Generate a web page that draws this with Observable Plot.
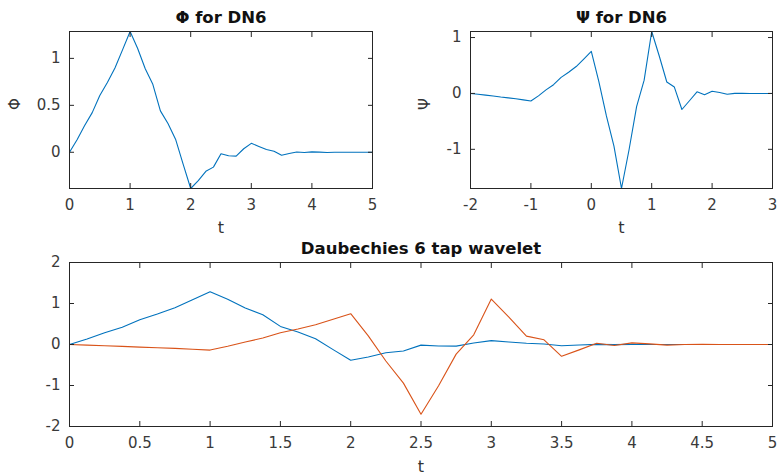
<!DOCTYPE html>
<html>
<head>
<meta charset="utf-8">
<script src="https://cdn.jsdelivr.net/npm/d3@7"></script>
<script src="https://cdn.jsdelivr.net/npm/@observablehq/plot@0.6"></script>
<style>
  html, body { margin: 0; padding: 0; background: #fff; }
  #root { position: relative; width: 779px; height: 474px; overflow: hidden; }
  .panel { position: absolute; }
</style>
</head>
<body>
<div id="root">
  <div class="panel" id="p1" style="left:0px;top:0px"></div>
  <div class="panel" id="p2" style="left:390px;top:0px"></div>
  <div class="panel" id="p3" style="left:0px;top:230px"></div>
</div>
<script>
// Time grid of the scaling function (support [0, 5])
const tPhi = [0, 0.125, 0.25, 0.375, 0.5, 0.625, 0.75, 0.875, 1, 1.125, 1.25, 1.375, 1.5, 1.625, 1.75, 1.875,
  2, 2.125, 2.25, 2.375, 2.5, 2.625, 2.75, 2.875, 3, 3.125, 3.25, 3.375, 3.5, 3.625, 3.75, 3.875,
  4, 4.125, 4.25, 4.375, 4.5, 4.625, 4.75, 4.875, 5];
// Scaling function Φ values
const phiValues = [0, 0.1340, 0.2847, 0.4225, 0.6052, 0.7436, 0.8981, 1.0904, 1.2863, 1.1052, 0.8899, 0.7241,
  0.4411, 0.3069, 0.1394, -0.1257, -0.3858, -0.3029, -0.2030, -0.1581, -0.0150, -0.0369, -0.0406, 0.0376,
  0.0953, 0.0621, 0.0299, 0.0113, -0.0315, -0.0134, 0.0030, -0.0024, 0.0042, 0.0017, -0.0016, 0.0002,
  0.0002, -0.0001, 0, 0, 0];
// Time grid of the wavelet (support [-2, 3])
const tPsi = [-2, -1.875, -1.75, -1.625, -1.5, -1.375, -1.25, -1.125, -1, -0.875, -0.75, -0.625, -0.5, -0.375, -0.25, -0.125,
  0, 0.125, 0.25, 0.375, 0.5, 0.625, 0.75, 0.875, 1, 1.125, 1.25, 1.375, 1.5, 1.625, 1.75, 1.875,
  2, 2.125, 2.25, 2.375, 2.5, 2.625, 2.75, 2.875, 3];
// Wavelet Ψ values
const psiValues = [0, -0.0142, -0.0301, -0.0447, -0.0641, -0.0787, -0.0951, -0.1155, -0.1362, -0.0431, 0.0630, 0.1567,
  0.2875, 0.3781, 0.4812, 0.6155, 0.7512, 0.2116, -0.4028, -0.9423, -1.7011, -1.0077, -0.2344, 0.2376,
  1.1082, 0.6695, 0.2041, 0.1139, -0.2875, -0.1307, 0.0291, -0.0225, 0.0400, 0.0159, -0.0151, 0.0014,
  0.0020, -0.0008, 0.0001, 0, 0];
// Wavelet shifted onto [0, 5] in the combined panel
const psiShift = 2;

// Tick labels
const xTicksPhi = [0, 1, 2, 3, 4, 5];
const yTicksPhi = [0, 0.5, 1];
const xTicksPsi = [-2, -1, 0, 1, 2, 3];
const yTicksPsi = [-1, 0, 1];
const xTicksAll = [0, 0.5, 1, 1.5, 2, 2.5, 3, 3.5, 4, 4.5, 5];
const yTicksAll = [-2, -1, 0, 1, 2];

const titles = ["Φ for DN6", "Ψ for DN6", "Daubechies 6 tap wavelet"];
const yLabels = ["Φ", "Ψ"];
const xLabel = "t";

const BLUE = "#0072BD";
const ORANGE = "#D95319";
const AX = "#262626";
const FONT = "'DejaVu Sans', 'Liberation Sans', Arial, sans-serif";

const phiData = tPhi.map((t, i) => ({t, v: phiValues[i]}));
const psiData = tPsi.map((t, i) => ({t, v: psiValues[i]}));
const psiShifted = tPsi.map((t, i) => ({t: t + psiShift, v: psiValues[i]}));

const fmt = d => String(d);

function boxAxes(xt, yt) {
  return [
    Plot.frame({stroke: AX, strokeWidth: 1}),
    Plot.axisX(xt, {anchor: "bottom", label: null, tickSize: -5, tickFormat: () => "", stroke: AX}),
    Plot.axisX(xt, {anchor: "top", label: null, tickSize: -5, tickFormat: () => "", stroke: AX}),
    Plot.axisY(yt, {anchor: "left", label: null, tickSize: -5, tickFormat: () => "", stroke: AX}),
    Plot.axisY(yt, {anchor: "right", label: null, tickSize: -5, tickFormat: () => "", stroke: AX}),
    Plot.axisX(xt, {anchor: "bottom", label: null, tickSize: 0, tickPadding: 11, tickFormat: fmt, fill: "#3a3a3a", fontSize: 15}),
    Plot.axisY(yt, {anchor: "left", label: null, tickSize: 0, tickPadding: 9, tickFormat: fmt, fill: "#3a3a3a", fontSize: 15})
  ];
}

function titleMark(s) {
  return Plot.text([s], {frameAnchor: "top", dy: -14, fontWeight: "bold", fontSize: 16.5, fill: "#111", lineAnchor: "middle"});
}
function xLabelMark(dy) {
  return Plot.text([xLabel], {frameAnchor: "bottom", dy, lineAnchor: "bottom", fontSize: 16, fill: "#333"});
}
function yLabelMark(s, dx) {
  return Plot.text([s], {frameAnchor: "left", dx, rotate: -90, fontSize: 15, fill: "#333", lineAnchor: "middle"});
}

const common = {style: {fontFamily: FONT, fontSize: "15px", color: AX, background: "transparent", overflow: "visible"}};

const p1 = Plot.plot({
  ...common,
  width: 390, height: 240,
  marginLeft: 69, marginRight: 18, marginTop: 31, marginBottom: 52,
  x: {domain: [0, 5], axis: null},
  y: {domain: [d3.min(phiValues), d3.max(phiValues)], axis: null},
  marks: [
    Plot.line(phiData, {x: "t", y: "v", stroke: BLUE, strokeWidth: 1.1}),
    ...boxAxes(xTicksPhi, yTicksPhi),
    titleMark(titles[0]),
    xLabelMark(44),
    yLabelMark(yLabels[0], -54)
  ]
});
document.getElementById("p1").appendChild(p1);

const p2 = Plot.plot({
  ...common,
  width: 389, height: 240,
  marginLeft: 80, marginRight: 7, marginTop: 31, marginBottom: 52,
  x: {domain: [-2, 3], axis: null},
  y: {domain: [d3.min(psiValues), d3.max(psiValues)], axis: null},
  marks: [
    Plot.line(psiData, {x: "t", y: "v", stroke: BLUE, strokeWidth: 1.1}),
    ...boxAxes(xTicksPsi, yTicksPsi),
    titleMark(titles[1]),
    xLabelMark(44),
    yLabelMark(yLabels[1], -45)
  ]
});
document.getElementById("p2").appendChild(p2);

const p3 = Plot.plot({
  ...common,
  width: 779, height: 244,
  marginLeft: 69, marginRight: 7, marginTop: 32, marginBottom: 48,
  x: {domain: [0, 5], axis: null},
  y: {domain: [-2, 2], axis: null},
  marks: [
    Plot.line(phiData, {x: "t", y: "v", stroke: BLUE, strokeWidth: 1.1}),
    Plot.line(psiShifted, {x: "t", y: "v", stroke: ORANGE, strokeWidth: 1.1}),
    ...boxAxes(xTicksAll, yTicksAll),
    titleMark(titles[2]),
    xLabelMark(45)
  ]
});
document.getElementById("p3").appendChild(p3);
</script>
</body>
</html>
